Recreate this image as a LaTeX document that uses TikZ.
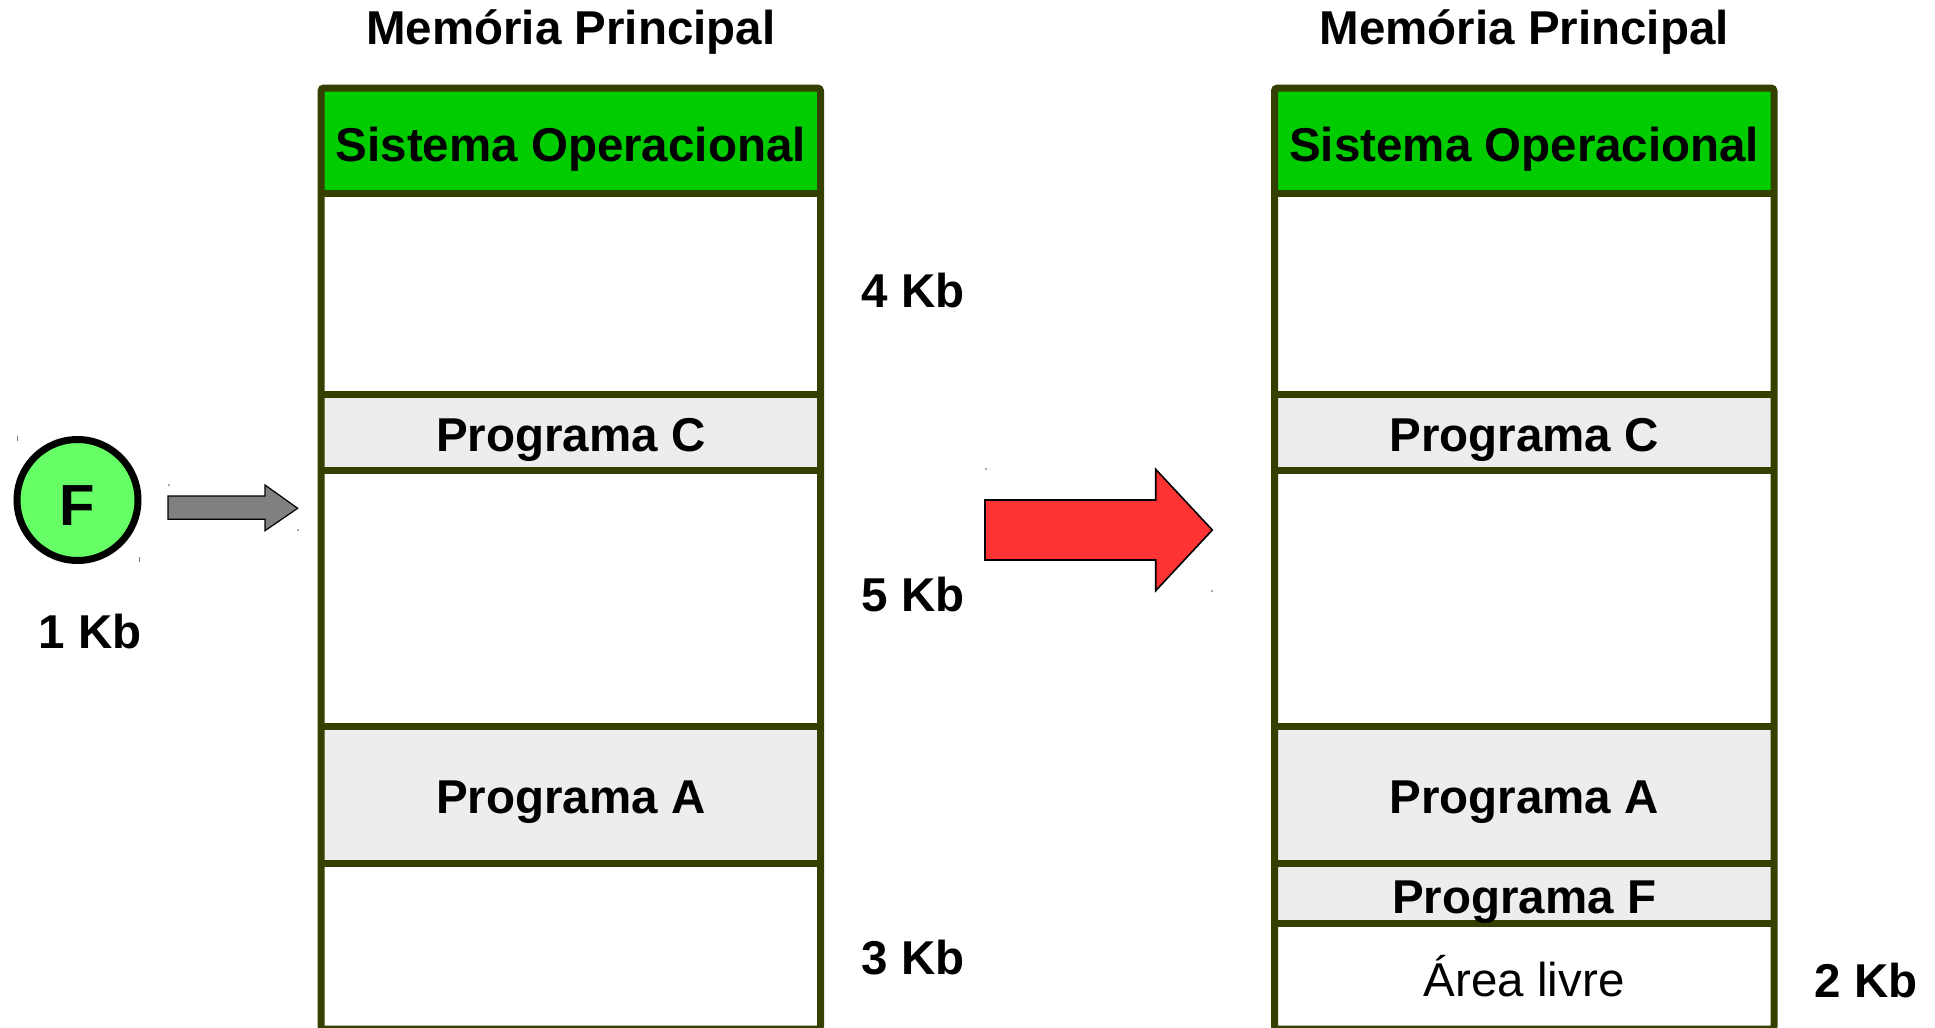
\documentclass[tikz,border=0pt]{standalone}
\usepackage{fontspec}
\setmainfont{Liberation Sans}
\definecolor{framecol}{HTML}{334000}
\definecolor{sogreen}{HTML}{00CC00}
\definecolor{proggray}{HTML}{EDEDED}
\definecolor{fgreen}{HTML}{66FF66}
\definecolor{arrowgray}{HTML}{808080}
\definecolor{arrowred}{HTML}{FF3333}
\definecolor{handle}{HTML}{777777}
\begin{document}
\begin{tikzpicture}[x=0.5pt,y=-0.5pt,
  lbl/.style={font=\fontsize{23.75pt}{28pt}\selectfont\bfseries, inner sep=0pt, anchor=base},
  plain/.style={font=\fontsize{23.75pt}{28pt}\selectfont, inner sep=0pt, anchor=base},
  colframe/.style={draw=framecol, line width=3.5pt},
  colline/.style={draw=framecol, line width=3.5pt},
  blockarrow/.style={draw=black, line width=0.6pt, line join=miter},
  handlemark/.style={draw=handle, line width=0.5pt}]
\useasboundingbox (0,0) rectangle (1935,1028);

% ---------- left memory column ----------
\fill[sogreen]  (321,88)    rectangle (820.5,193.5);
\fill[proggray] (321,394.5) rectangle (820.5,470);
\fill[proggray] (321,726.7) rectangle (820.5,863);
\draw[colframe, rounded corners=1.5pt] (321,88) rectangle (820.5,1029);
\foreach \yy in {193.5,394.5,470,726.7,863}
  \draw[colline] (321,\yy) -- (820.5,\yy);

\node[lbl] (titleL) at (570.75,45)  {Memória Principal};
\node[lbl] (soL)    at (570.75,161) {Sistema Operacional};
\node[lbl] (pcL)    at (570.75,451) {Programa C};
\node[lbl] (paL)    at (570.75,813) {Programa A};

\node[lbl] (k4) at (913,307) {4 Kb};
\node[lbl] (k5) at (913,611) {5 Kb};
\node[lbl] (k3) at (913,974) {3 Kb};

% ---------- right memory column ----------
\fill[sogreen]  (1274.5,88)    rectangle (1774,193.5);
\fill[proggray] (1274.5,394.5) rectangle (1774,470);
\fill[proggray] (1274.5,726.7) rectangle (1774,923.7);
\draw[colframe, rounded corners=1.5pt] (1274.5,88) rectangle (1774,1029);
\foreach \yy in {193.5,394.5,470,726.7,863,923.7}
  \draw[colline] (1274.5,\yy) -- (1774,\yy);

\node[lbl]   (titleR) at (1524.25,45)  {Memória Principal};
\node[lbl]   (soR)    at (1524.25,161) {Sistema Operacional};
\node[lbl]   (pcR)    at (1524.25,451) {Programa C};
\node[lbl]   (paR)    at (1524.25,813) {Programa A};
\node[lbl]   (pfR)    at (1524.25,913) {Programa F};
\node[plain] (livre)  at (1524.25,996) {Área livre};
\node[lbl]   (k2)     at (1866,997)    {2 Kb};

% ---------- program F waiting ----------
\node[circle, draw=black, line width=3.5pt, fill=fgreen, minimum size=60.5pt, inner sep=0pt]
  (fproc) at (77.5,500) {};
\node[font=\fontsize{29pt}{34pt}\selectfont\bfseries, inner sep=0pt, anchor=base]
  (fname) at (77.5,525) {F};
\node[lbl] (k1) at (90,648) {1 Kb};

% grey block arrow: F goes into memory
\coordinate (ga) at (168,507.7);
\draw[blockarrow, fill=arrowgray]
  (ga) ++(0,-11.7) -- ++(97,0) -- ++(0,-11) -- (297.7,508.3)
  -- (265,530.7) -- (265,519.3) -- (168,519.3) -- cycle;

% red block arrow: resulting allocation
\coordinate (ra) at (985,530);
\draw[blockarrow, line width=0.8pt, fill=arrowred]
  (ra) ++(0,-30) -- (1155.7,500) -- (1155.7,469.3) -- (1212.3,530)
  -- (1155.7,590.7) -- (1155.7,560) -- (985,560) -- cycle;

% small selection handle marks
\draw[handlemark] (17,436) -- (17,441);
\draw[handlemark] (139,557) -- (139,562);
\fill[handle] (169,485) circle (0.5pt);
\fill[handle] (298,530) circle (0.5pt);
\fill[handle] (986,469) circle (0.5pt);
\fill[handle] (1212,591) circle (0.5pt);
\end{tikzpicture}
\end{document}
